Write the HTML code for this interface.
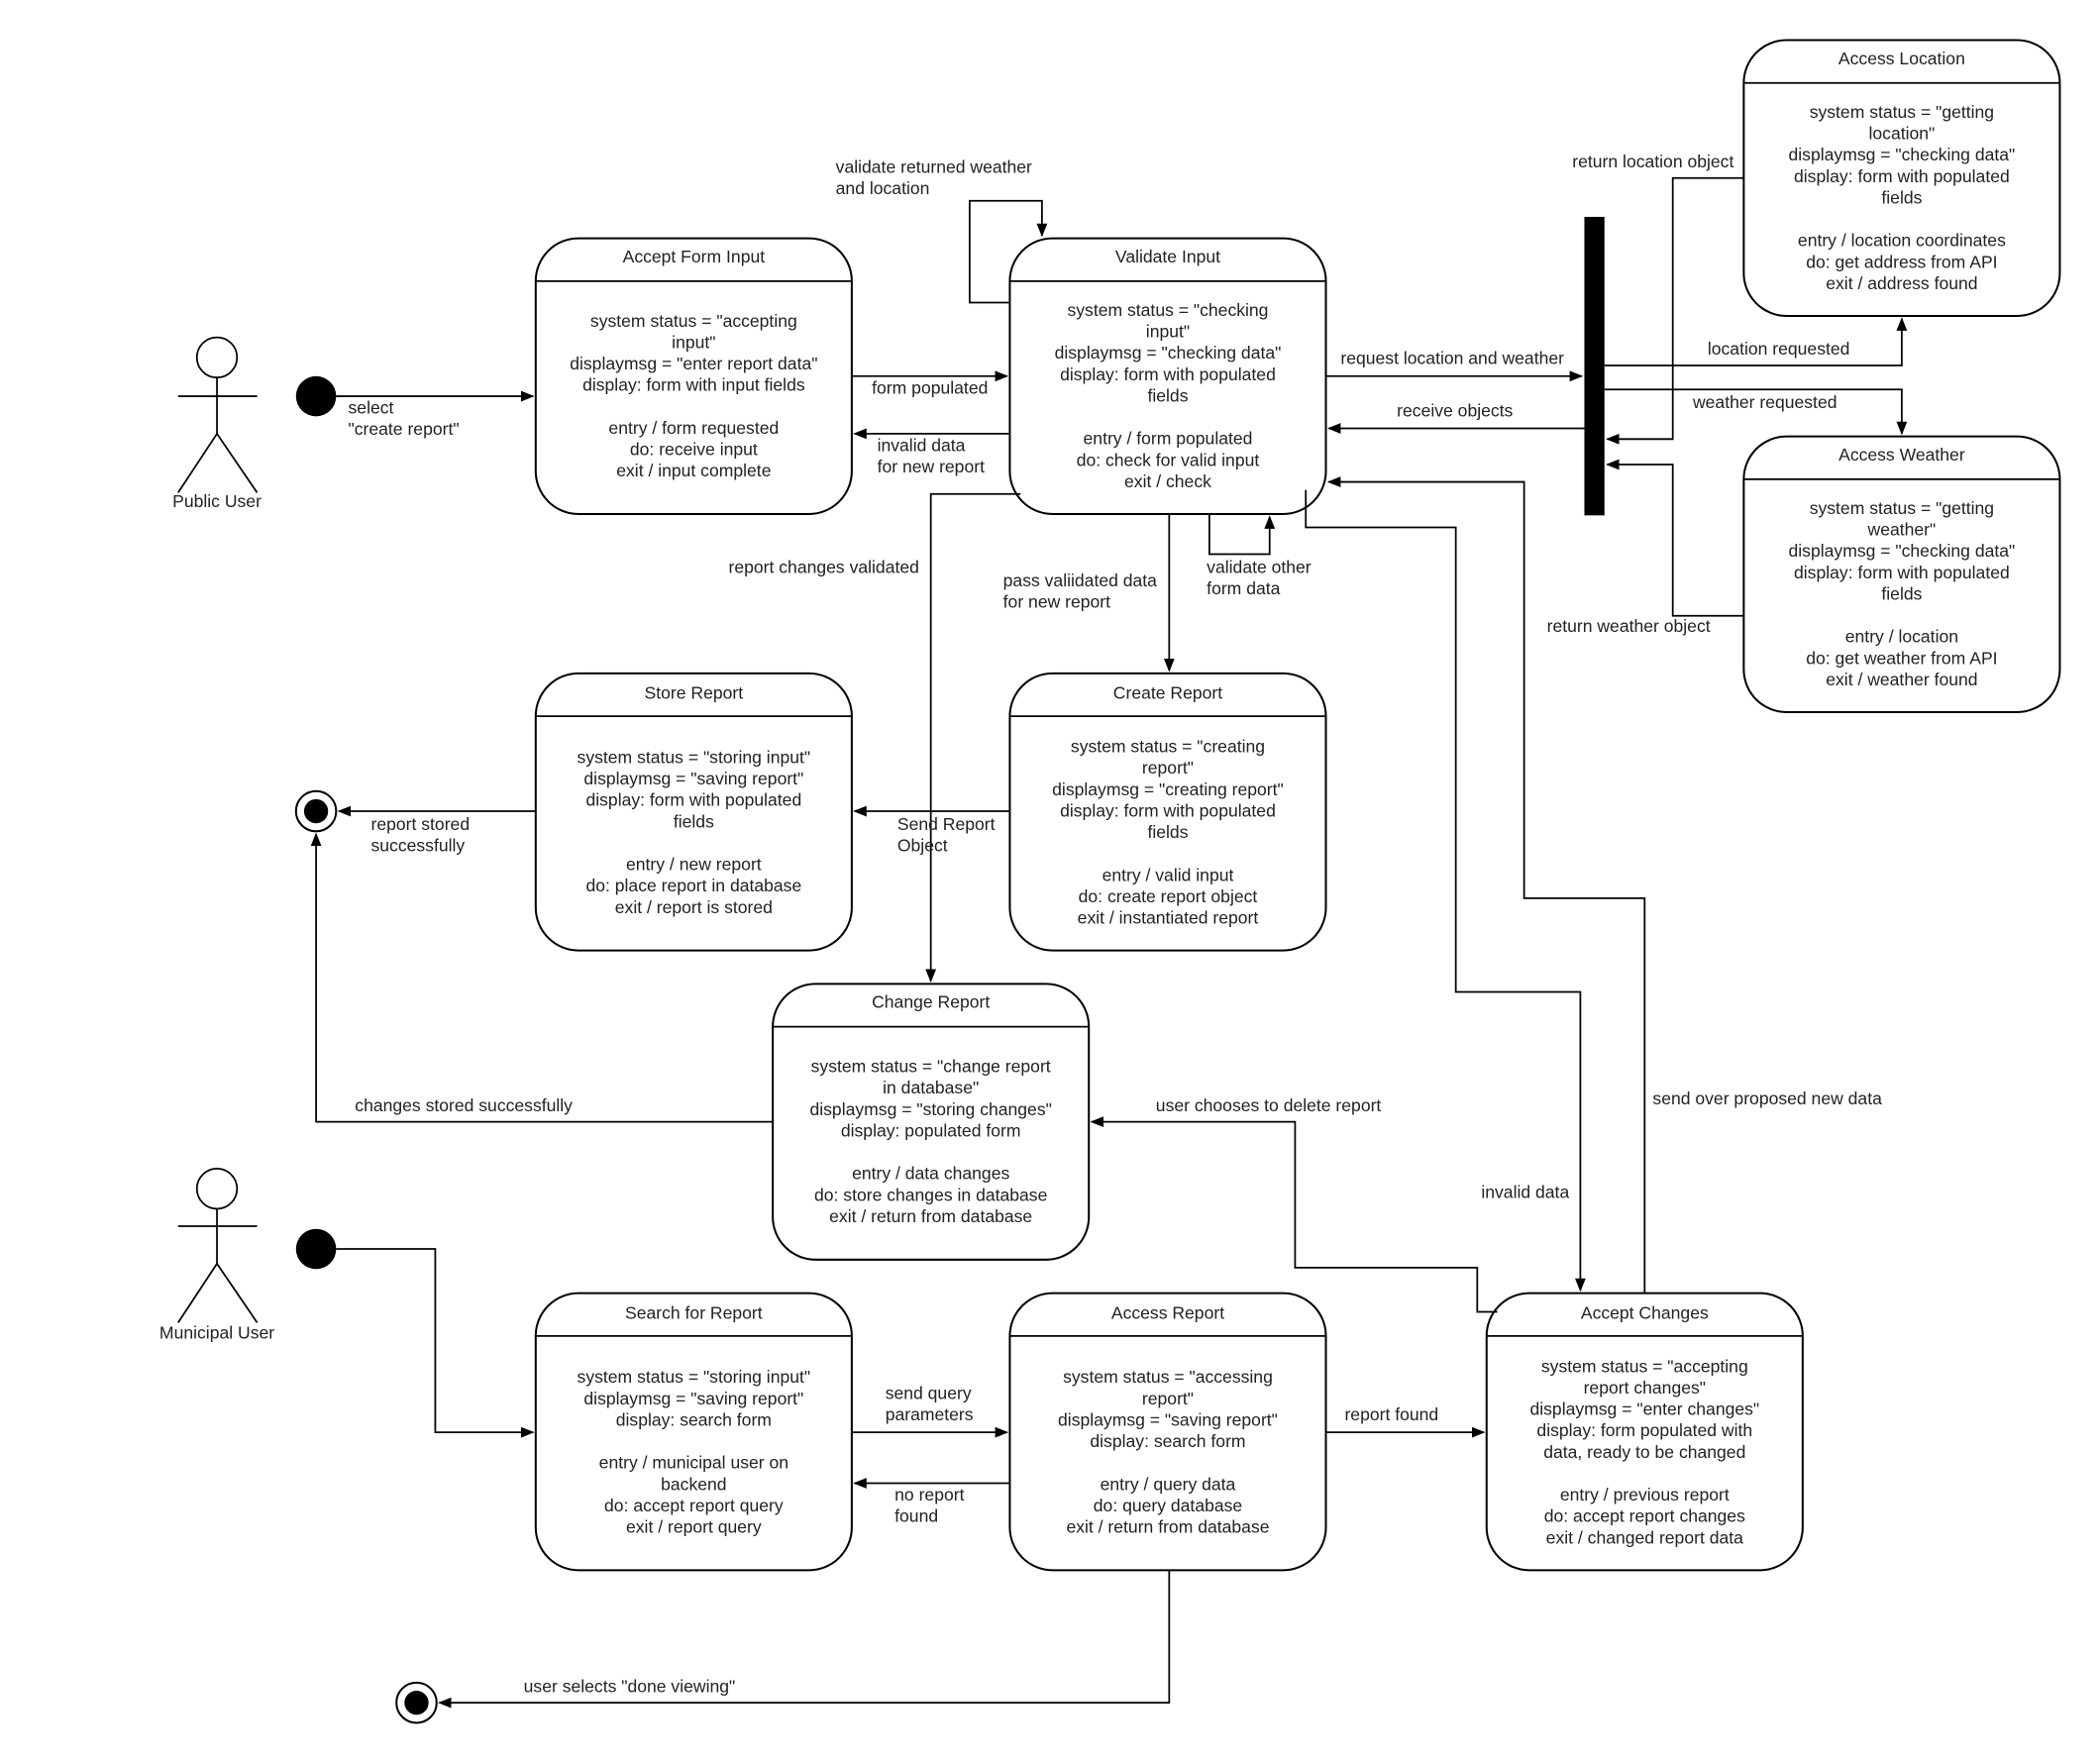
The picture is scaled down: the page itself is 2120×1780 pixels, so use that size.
<!DOCTYPE html>
<html><head><meta charset="utf-8"><style>
html,body{margin:0;padding:0;background:#fff}
svg{display:block}
text{font-family:"Liberation Sans",sans-serif;font-size:13px;fill:#222}
.c{text-anchor:middle}
.s{fill:#fff;stroke:#000;stroke-width:1.5}
.l{fill:none;stroke:#000;stroke-width:1.3}
</style></head><body>
<svg width="2120" height="1780" viewBox="0 0 1568 1317" preserveAspectRatio="none" xmlns="http://www.w3.org/2000/svg">
<defs><marker id="a" markerWidth="10" markerHeight="8" refX="9" refY="4" orient="auto" markerUnits="userSpaceOnUse"><path d="M0,0 L10,4 L0,8 z" fill="#000"/></marker></defs>
<rect width="1568" height="1317" fill="#fff"/>

<g>
<rect class="s" x="400" y="178" width="236" height="206" rx="32"/><line class="l" x1="400" y1="210" x2="636" y2="210"/>
<text class="c" x="518" y="196">Accept Form Input</text>
<text class="c" x="518" y="244">system status = "accepting</text><text class="c" x="518" y="260">input"</text><text class="c" x="518" y="276">displaymsg = "enter report data"</text><text class="c" x="518" y="292">display: form with input fields</text><text class="c" x="518" y="324">entry / form requested</text><text class="c" x="518" y="340">do: receive input</text><text class="c" x="518" y="356">exit / input complete</text>

<rect class="s" x="754" y="178" width="236" height="206" rx="32"/><line class="l" x1="754" y1="210" x2="990" y2="210"/>
<text class="c" x="872" y="196">Validate Input</text>
<text class="c" x="872" y="236">system status = "checking</text><text class="c" x="872" y="252">input"</text><text class="c" x="872" y="268">displaymsg = "checking data"</text><text class="c" x="872" y="284">display: form with populated</text><text class="c" x="872" y="300">fields</text><text class="c" x="872" y="332">entry / form populated</text><text class="c" x="872" y="348">do: check for valid input</text><text class="c" x="872" y="364">exit / check</text>

<rect class="s" x="1302" y="30" width="236" height="206" rx="32"/><line class="l" x1="1302" y1="62" x2="1538" y2="62"/>
<text class="c" x="1420" y="48">Access Location</text>
<text class="c" x="1420" y="88">system status = "getting</text><text class="c" x="1420" y="104">location"</text><text class="c" x="1420" y="120">displaymsg = "checking data"</text><text class="c" x="1420" y="136">display: form with populated</text><text class="c" x="1420" y="152">fields</text><text class="c" x="1420" y="184">entry / location coordinates</text><text class="c" x="1420" y="200">do: get address from API</text><text class="c" x="1420" y="216">exit / address found</text>

<rect class="s" x="1302" y="326" width="236" height="206" rx="32"/><line class="l" x1="1302" y1="358" x2="1538" y2="358"/>
<text class="c" x="1420" y="344">Access Weather</text>
<text class="c" x="1420" y="384">system status = "getting</text><text class="c" x="1420" y="400">weather"</text><text class="c" x="1420" y="416">displaymsg = "checking data"</text><text class="c" x="1420" y="432">display: form with populated</text><text class="c" x="1420" y="448">fields</text><text class="c" x="1420" y="480">entry / location</text><text class="c" x="1420" y="496">do: get weather from API</text><text class="c" x="1420" y="512">exit / weather found</text>

<rect class="s" x="400" y="503" width="236" height="207" rx="32"/><line class="l" x1="400" y1="535" x2="636" y2="535"/>
<text class="c" x="518" y="522">Store Report</text>
<text class="c" x="518" y="570">system status = "storing input"</text><text class="c" x="518" y="586">displaymsg = "saving report"</text><text class="c" x="518" y="602">display: form with populated</text><text class="c" x="518" y="618">fields</text><text class="c" x="518" y="650">entry / new report</text><text class="c" x="518" y="666">do: place report in database</text><text class="c" x="518" y="682">exit / report is stored</text>

<rect class="s" x="754" y="503" width="236" height="207" rx="32"/><line class="l" x1="754" y1="535" x2="990" y2="535"/>
<text class="c" x="872" y="522">Create Report</text>
<text class="c" x="872" y="562">system status = "creating</text><text class="c" x="872" y="578">report"</text><text class="c" x="872" y="594">displaymsg = "creating report"</text><text class="c" x="872" y="610">display: form with populated</text><text class="c" x="872" y="626">fields</text><text class="c" x="872" y="658">entry / valid input</text><text class="c" x="872" y="674">do: create report object</text><text class="c" x="872" y="690">exit / instantiated report</text>

<rect class="s" x="577" y="735" width="236" height="206" rx="32"/><line class="l" x1="577" y1="767" x2="813" y2="767"/>
<text class="c" x="695" y="753">Change Report</text>
<text class="c" x="695" y="801">system status = "change report</text><text class="c" x="695" y="817">in database"</text><text class="c" x="695" y="833">displaymsg = "storing changes"</text><text class="c" x="695" y="849">display: populated form</text><text class="c" x="695" y="881">entry /  data changes</text><text class="c" x="695" y="897">do: store changes in database</text><text class="c" x="695" y="913">exit / return from database</text>

<rect class="s" x="400" y="966" width="236" height="207" rx="32"/><line class="l" x1="400" y1="998" x2="636" y2="998"/>
<text class="c" x="518" y="985">Search for Report</text>
<text class="c" x="518" y="1033">system status = "storing input"</text><text class="c" x="518" y="1049">displaymsg = "saving report"</text><text class="c" x="518" y="1065">display: search form</text><text class="c" x="518" y="1097">entry / municipal user on</text><text class="c" x="518" y="1113">backend</text><text class="c" x="518" y="1129">do: accept report query</text><text class="c" x="518" y="1145">exit / report query</text>

<rect class="s" x="754" y="966" width="236" height="207" rx="32"/><line class="l" x1="754" y1="998" x2="990" y2="998"/>
<text class="c" x="872" y="985">Access Report</text>
<text class="c" x="872" y="1033">system status = "accessing</text><text class="c" x="872" y="1049">report"</text><text class="c" x="872" y="1065">displaymsg = "saving report"</text><text class="c" x="872" y="1081">display: search form</text><text class="c" x="872" y="1113">entry / query data</text><text class="c" x="872" y="1129">do: query database</text><text class="c" x="872" y="1145">exit / return from database</text>

<rect class="s" x="1110" y="966" width="236" height="207" rx="32"/><line class="l" x1="1110" y1="998" x2="1346" y2="998"/>
<text class="c" x="1228" y="985">Accept Changes</text>
<text class="c" x="1228" y="1025">system status = "accepting</text><text class="c" x="1228" y="1041">report changes"</text><text class="c" x="1228" y="1057">displaymsg = "enter changes"</text><text class="c" x="1228" y="1073">display: form populated with</text><text class="c" x="1228" y="1089">data, ready to be changed</text><text class="c" x="1228" y="1121">entry / previous report</text><text class="c" x="1228" y="1137">do: accept report changes</text><text class="c" x="1228" y="1153">exit / changed report data</text>
</g>

<rect x="1183" y="162" width="15" height="223" fill="#000"/>

<circle cx="236" cy="296" r="15" fill="#000"/>
<circle cx="236" cy="933" r="15" fill="#000"/>
<circle cx="236" cy="606" r="15" fill="#fff" stroke="#000" stroke-width="1.5"/><circle cx="236" cy="606" r="9" fill="#000"/>
<circle cx="311" cy="1272" r="15" fill="#fff" stroke="#000" stroke-width="1.5"/><circle cx="311" cy="1272" r="9" fill="#000"/>

<g class="l">
<circle cx="162" cy="267" r="15" fill="#fff"/><line x1="162" y1="282" x2="162" y2="324"/><line x1="133" y1="296" x2="192" y2="296"/><path d="M133,368 L162,324 L192,368"/>
<circle cx="162" cy="888" r="15" fill="#fff"/><line x1="162" y1="903" x2="162" y2="944"/><line x1="133" y1="916" x2="192" y2="916"/><path d="M133,988 L162,944 L192,988"/>
</g>
<text class="c" x="162" y="379">Public User</text>
<text class="c" x="162" y="1000">Municipal User</text>

<g class="l" marker-end="url(#a)">
<path d="M251,296 H398"/>
<path d="M636,281 H752"/>
<path d="M754,324 H638"/>
<path d="M754,226 H724 V150 H778 V176"/>
<path d="M903,384 V414 H948 V386"/>
<path d="M873,384 V501"/>
<path d="M762,369 H695 V733"/>
<path d="M990,281 H1181"/>
<path d="M1183,320 H992"/>
<path d="M1198,273 H1420 V238"/>
<path d="M1198,291 H1420 V324"/>
<path d="M1302,133 H1249 V328 H1200"/>
<path d="M1302,460 H1249 V347 H1200"/>
<path d="M754,606 H638"/>
<path d="M400,606 H253"/>
<path d="M577,838 H236 V623"/>
<path d="M251,933 H325 V1070 H398"/>
<path d="M636,1070 H752"/>
<path d="M754,1108 H638"/>
<path d="M990,1070 H1108"/>
<path d="M873,1173 V1272 H328"/>
<path d="M1118,980 H1103 V947 H967 V838 H815"/>
<path d="M975,366 V394 H1087 V741 H1180 V964"/>
<path d="M1228,966 V671 H1138 V360 H992"/>
</g>

<text x="260" y="309">select</text><text x="260" y="325">"create report"</text>
<text x="651" y="294">form populated</text>
<text x="655" y="337">invalid data</text><text x="655" y="353">for new report</text>
<text x="624" y="129">validate returned weather</text><text x="624" y="145">and location</text>
<text x="901" y="428">validate other</text><text x="901" y="444">form data</text>
<text x="749" y="438">pass valiidated data</text><text x="749" y="454">for new report</text>
<text x="544" y="428">report changes validated</text>
<text x="1001" y="272">request location and weather</text>
<text x="1043" y="311">receive objects</text>
<text x="1275" y="265">location requested</text>
<text x="1264" y="305">weather requested</text>
<text x="1174" y="125">return location object</text>
<text x="1155" y="472">return weather object</text>
<text x="670" y="620">Send Report</text><text x="670" y="636">Object</text>
<text x="277" y="620">report stored</text><text x="277" y="636">successfully</text>
<text x="265" y="830">changes stored successfully</text>
<text x="661" y="1045">send query</text><text x="661" y="1061">parameters</text>
<text x="668" y="1121">no report</text><text x="668" y="1137">found</text>
<text x="1004" y="1061">report found</text>
<text x="391" y="1264">user selects "done viewing"</text>
<text x="863" y="830">user chooses to delete report</text>
<text x="1106" y="895">invalid data</text>
<text x="1234" y="825">send over proposed new data</text>
</svg>
</body></html>
